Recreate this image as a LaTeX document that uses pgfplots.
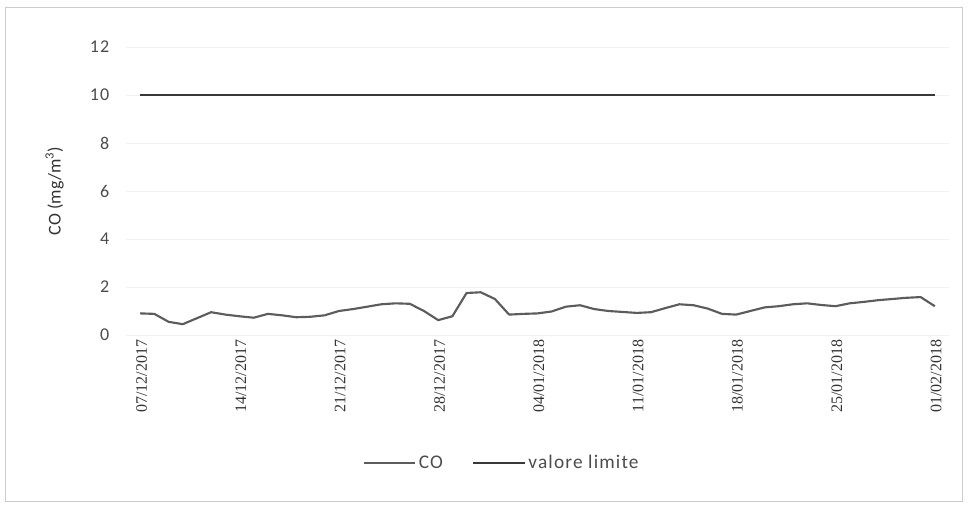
\documentclass[border=0pt]{standalone}
\usepackage{fontspec}
\setmainfont{Carlito}
\newfontfamily\serifx{Liberation Serif}
\newfontfamily\spaced[LetterSpace=6]{Carlito}
\usepackage{pgfplots}
\pgfplotsset{compat=1.18}

\definecolor{coline}{gray}{0.36}
\definecolor{limline}{gray}{0.22}

% CO daily values, day 0 = 07/12/2017
\pgfplotstableread{
d co
0 0.90
1 0.88
2 0.55
3 0.45
4 0.70
5 0.95
6 0.85
7 0.78
8 0.72
9 0.88
10 0.82
11 0.74
12 0.76
13 0.82
14 1.00
15 1.08
16 1.18
17 1.28
18 1.32
19 1.30
20 1.00
21 0.62
22 0.78
23 1.75
24 1.78
25 1.50
26 0.85
27 0.88
28 0.90
29 0.98
30 1.18
31 1.24
32 1.08
33 1.00
34 0.96
35 0.92
36 0.95
37 1.12
38 1.28
39 1.24
40 1.10
41 0.88
42 0.85
43 1.00
44 1.15
45 1.20
46 1.28
47 1.32
48 1.25
49 1.20
50 1.32
51 1.38
52 1.45
53 1.50
54 1.55
55 1.58
56 1.20
}\codata

\begin{document}
\begin{tikzpicture}
  % 1 px of the reference = 0.75pt
  \path[use as bounding box] (0pt,0pt) rectangle (726pt,380.25pt);
  \draw[black!20, line width=0.6pt] (3.75pt,4.5pt) rectangle (721.5pt,375pt);
  \begin{axis}[
    at={(94.5pt,129pt)}, anchor=south west,
    scale only axis,
    width=617.25pt, height=216pt,
    xmin=-1, xmax=57,
    ymin=0, ymax=12,
    ytick={0,2,...,12},
    xtick={0,7,...,56},
    xticklabels={07/12/2017,14/12/2017,21/12/2017,28/12/2017,04/01/2018,11/01/2018,18/01/2018,25/01/2018,01/02/2018},
    axis line style={draw=none},
    major tick length=0pt,
    ymajorgrids,
    grid style={black!5, line width=0.6pt},
    /pgf/number format/assume math mode=true,
    yticklabel style={font=\spaced\fontsize{13.5}{15}\selectfont, text=black!70, xshift=-9pt},
    xticklabel style={font=\serifx\fontsize{12}{14}\selectfont, text=black!80, rotate=90, anchor=east, yshift=-1pt},
    ylabel={CO (mg/m\textsuperscript{3})},
    ylabel style={font=\fontsize{13.5}{15}\selectfont, text=black!80, at={(axis description cs:-0.07,0.5)}},
    legend columns=2,
    legend style={draw=none, fill=none, font=\spaced\fontsize{14.5}{16}\selectfont, text=black!70,
      at={(axis description cs:0.457,-0.445)}, anchor=center,
      /tikz/every even column/.append style={column sep=20pt}},
    legend image code/.code={\draw[#1] (0cm,0cm) -- (1.35cm,0cm);},
  ]
    \addplot[coline, line width=1.6pt, line join=round] table[x=d, y=co] {\codata};
    \addlegendentry{CO}
    \addplot[limline, line width=1.6pt] coordinates {(0,10) (56,10)};
    \addlegendentry{valore limite}
  \end{axis}
\end{tikzpicture}
\end{document}
